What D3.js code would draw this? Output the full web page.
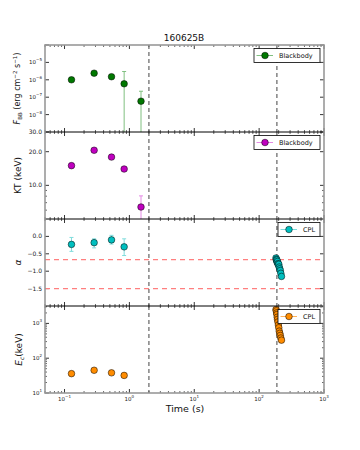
<!DOCTYPE html>
<html>
<head>
<meta charset="utf-8">
<script src="https://cdn.jsdelivr.net/npm/d3@7"></script>
<style>
  body { margin: 0; background: #fff; }
  svg { font-family: "DejaVu Sans", sans-serif; }
</style>
</head>
<body>
<svg id="chart" width="360" height="450"></svg>
<script>
// blackbody component (early pulse)
const timeBB = [0.128, 0.286, 0.53, 0.83, 1.51];
const fluxBB = [1.0e-6, 2.4e-6, 1.5e-6, 5.9e-7, 5.9e-8];
const fluxBBLo = [8.0e-7, 2.0e-6, 1.25e-6, 1e-10, 1e-10];
const fluxBBHi = [1.2e-6, 2.9e-6, 1.8e-6, 3.0e-6, 2.2e-7];
const ktBB = [15.0, 20.6, 17.9, 14.0, 6.4];
const ktBBLo = [14.6, 20.1, 17.4, 13.6, 3.0];
const ktBBHi = [15.4, 21.1, 18.4, 14.4, 8.05];

// cutoff power law component
const timeCPL = [0.128, 0.286, 0.53, 0.83, 182, 184, 186, 188, 190, 192, 195, 198, 201, 204, 208, 212, 216, 221];
const alphaCPL = [-0.23, -0.18, -0.10, -0.30, -0.62, -0.66, -0.70, -0.68, -0.75, -0.72, -0.78, -0.82, -0.80, -0.88, -0.93, -0.98, -1.06, -1.15];
const alphaLo = [-0.43, -0.33, -0.22, -0.55, -0.68, -0.72, -0.76, -0.74, -0.81, -0.78, -0.84, -0.88, -0.86, -0.94, -0.99, -1.04, -1.12, -1.21];
const alphaHi = [-0.03, -0.07, 0.03, -0.07, -0.56, -0.60, -0.64, -0.62, -0.69, -0.66, -0.72, -0.76, -0.74, -0.82, -0.87, -0.92, -1.00, -1.09];
const ecCPL = [36, 45, 38, 32, 2500, 2300, 2000, 1800, 1500, 1300, 1100, 900, 750, 600, 520, 450, 380, 330];

const vLines = [2, 188];
const alphaRefs = [-2 / 3, -1.5];

const xTicks = [0.1, 1, 10, 100, 1000];
const fluxTicks = [1e-8, 1e-7, 1e-6, 1e-5];
const ktTicks = [10, 20, 30];
const alphaTicks = [0, -0.5, -1, -1.5];
const ecTicks = [10, 100, 1000];

const svg = d3.select("#chart");
const L = 45, R = 324, top0 = 45, H = 87;
const tops = [0, 1, 2, 3].map(i => top0 + i * H);

const x = d3.scaleLog().domain([0.05, 1000]).range([L, R]);

const sup = s => s.replace("-", "\u2212");

function minorLog(domain) {
  const out = [];
  const lo = Math.floor(Math.log10(domain[0])), hi = Math.ceil(Math.log10(domain[1]));
  for (let e = lo; e <= hi; e++) {
    for (let m = 2; m <= 9; m++) {
      const v = m * Math.pow(10, e);
      if (v >= domain[0] && v <= domain[1]) out.push(v);
    }
  }
  return out;
}

function panel(i, y, opts) {
  const t = tops[i], b = t + H;
  const g = svg.append("g");
  const cid = "clip" + i;
  svg.append("clipPath").attr("id", cid)
    .append("rect").attr("x", L).attr("y", t).attr("width", R - L).attr("height", H);

  // x ticks top and bottom, inward
  const xMinor = minorLog(x.domain());
  [t, b].forEach((yy, k) => {
    const dir = k === 0 ? 1 : -1;
    g.selectAll(null).data(xTicks).enter().append("line")
      .attr("x1", d => x(d)).attr("x2", d => x(d))
      .attr("y1", yy).attr("y2", yy + dir * 4)
      .attr("stroke", "#000").attr("stroke-width", 0.8);
    g.selectAll(null).data(xMinor).enter().append("line")
      .attr("x1", d => x(d)).attr("x2", d => x(d))
      .attr("y1", yy).attr("y2", yy + dir * 2)
      .attr("stroke", "#000").attr("stroke-width", 0.6);
  });

  // y ticks left and right
  [L, R].forEach((xx, k) => {
    const dir = k === 0 ? 1 : -1;
    g.selectAll(null).data(opts.ticks).enter().append("line")
      .attr("x1", xx).attr("x2", xx + dir * 4)
      .attr("y1", d => y(d)).attr("y2", d => y(d))
      .attr("stroke", "#000").attr("stroke-width", 0.8);
    if (opts.minor) {
      g.selectAll(null).data(opts.minor).enter().append("line")
        .attr("x1", xx).attr("x2", xx + dir * 2)
        .attr("y1", d => y(d)).attr("y2", d => y(d))
        .attr("stroke", "#000").attr("stroke-width", 0.6);
    }
  });

  // y tick labels
  opts.ticks.forEach(d => {
    if (opts.skip && opts.skip(d)) return;
    const tx = g.append("text").attr("x", L - 3).attr("y", y(d) + 2)
      .attr("text-anchor", "end").attr("font-size", opts.log ? 5.5 : 6).attr("fill", "#222");
    if (opts.log) {
      tx.append("tspan").text("10");
      tx.append("tspan").attr("dy", -3).attr("font-size", 4).text(sup(String(Math.round(Math.log10(d)))));
    } else {
      tx.text(opts.fmt(d));
    }
  });

  // y label
  const lab = svg.append("text")
    .attr("transform", `translate(${opts.labX},${t + H / 2}) rotate(-90)`)
    .attr("text-anchor", "middle").attr("font-size", opts.labSize || 9).attr("fill", "#111");
  opts.label(lab);

  const plot = svg.append("g").attr("clip-path", `url(#${cid})`);

  if (opts.refs) {
    plot.selectAll(null).data(opts.refs).enter().append("line")
      .attr("x1", L).attr("x2", R).attr("y1", d => y(d)).attr("y2", d => y(d))
      .attr("stroke", "#ff7f7f").attr("stroke-width", 1.1).attr("stroke-dasharray", "5,4");
  }

  plot.selectAll(null).data(vLines).enter().append("line")
    .attr("x1", d => x(d)).attr("x2", d => x(d)).attr("y1", t).attr("y2", b)
    .attr("stroke", "#444").attr("stroke-width", 1).attr("stroke-dasharray", "4,3");

  const pts = opts.xs.map((xv, j) => ({ x: xv, y: opts.ys[j],
    lo: opts.lo ? opts.lo[j] : null, hi: opts.hi ? opts.hi[j] : null }));

  // error bars
  pts.filter(p => p.lo !== null).forEach(p => {
    const px = x(p.x);
    plot.append("line").attr("x1", px).attr("x2", px)
      .attr("y1", y(Math.max(p.lo, y.domain()[0] * 0 + p.lo))).attr("y2", y(p.hi))
      .attr("stroke", opts.ecolor).attr("stroke-width", 1);
    [p.lo, p.hi].forEach(v => {
      plot.append("line").attr("x1", px - 2).attr("x2", px + 2)
        .attr("y1", y(v)).attr("y2", y(v))
        .attr("stroke", opts.ecolor).attr("stroke-width", 1);
    });
  });

  plot.selectAll(null).data(pts).enter().append("circle")
    .attr("cx", d => x(d.x)).attr("cy", d => y(d.y)).attr("r", 3.3)
    .attr("fill", opts.color).attr("stroke", "#000").attr("stroke-width", 0.5);

  // legend
  const lw = opts.legendW, lx = R - 4 - lw, ly = t + 3.5, lh = 14;
  svg.append("rect").attr("x", lx).attr("y", ly).attr("width", lw).attr("height", lh)
    .attr("fill", "#fff").attr("stroke", "#000").attr("stroke-width", 0.8);
  svg.append("line").attr("x1", lx + 2.5).attr("x2", lx + 19).attr("y1", ly + lh / 2).attr("y2", ly + lh / 2)
    .attr("stroke", opts.ecolor).attr("stroke-width", 1);
  svg.append("circle").attr("cx", lx + 11).attr("cy", ly + lh / 2).attr("r", 3.3)
    .attr("fill", opts.color).attr("stroke", "#000").attr("stroke-width", 0.5);
  svg.append("text").attr("x", lx + 25).attr("y", ly + lh / 2 + 2.3)
    .attr("font-size", 6.5).attr("fill", "#111").text(opts.legend);

  return { t, b };
}

// panel 1: blackbody flux
const yF = d3.scaleLog().domain([1e-9, 1e-4]).range([tops[0] + H, tops[0]]);
panel(0, yF, {
  ticks: fluxTicks.concat([1e-4]), minor: null, log: true,
  skip: d => d === 1e-4,
  xs: timeBB, ys: fluxBB, lo: fluxBBLo, hi: fluxBBHi,
  color: "#007800", ecolor: "#80c080", legend: "Blackbody", legendW: 66,
  labX: 20, labSize: 8,
  label: s => {
    s.append("tspan").attr("font-style", "italic").text("F");
    s.append("tspan").attr("font-size", 5.5).attr("dy", 2).text("BB");
    s.append("tspan").attr("dy", -2).text(" (erg cm");
    s.append("tspan").attr("font-size", 5.5).attr("dy", -3).text("\u22122");
    s.append("tspan").attr("dy", 3).text(" s");
    s.append("tspan").attr("font-size", 5.5).attr("dy", -3).text("\u22121");
    s.append("tspan").attr("dy", 3).text(")");
  }
});

// panel 2: blackbody temperature
const yK = d3.scaleLog().domain([5, 30]).range([tops[1] + H, tops[1]]);
panel(1, yK, {
  ticks: ktTicks, minor: [6, 7, 8, 9], log: false, fmt: d3.format(".1f"),
  xs: timeBB, ys: ktBB, lo: ktBBLo, hi: ktBBHi,
  color: "#bf00bf", ecolor: "#e48ae4", legend: "Blackbody", legendW: 66,
  labX: 21,
  label: s => s.text("KT (keV)")
});

// panel 3: CPL index
const yA = d3.scaleLinear().domain([-2, 0.5]).range([tops[2] + H, tops[2]]);
panel(2, yA, {
  ticks: alphaTicks, minor: null, log: false, fmt: d => d3.format(".1f")(d).replace("-", "\u2212"),
  xs: timeCPL, ys: alphaCPL, lo: alphaLo, hi: alphaHi, refs: alphaRefs,
  color: "#00bfbf", ecolor: "#7fdcdc", legend: "CPL", legendW: 42,
  labX: 21,
  label: s => s.attr("font-style", "italic").text("\u03b1")
});

// panel 4: CPL cutoff energy
const yE = d3.scaleLog().domain([10, Math.pow(10, 3.5)]).range([tops[3] + H, tops[3]]);
panel(3, yE, {
  ticks: ecTicks, minor: minorLog([10, Math.pow(10, 3.5)]), log: true,
  xs: timeCPL, ys: ecCPL,
  color: "#ff8c00", ecolor: "#ffb35c", legend: "CPL", legendW: 42,
  labX: 22,
  label: s => {
    s.append("tspan").attr("font-style", "italic").text("E");
    s.append("tspan").attr("font-size", 6).attr("dy", 2).attr("font-style", "italic").text("c");
    s.append("tspan").attr("dy", -2).text("(keV)");
  }
});

// panel separators and outer frame
svg.selectAll(null).data([tops[1], tops[2], tops[3]]).enter().append("line")
  .attr("x1", L).attr("x2", R).attr("y1", d => d).attr("y2", d => d)
  .attr("stroke", "#000").attr("stroke-width", 1);
svg.append("rect").attr("x", L).attr("y", top0).attr("width", R - L).attr("height", 4 * H)
  .attr("fill", "none").attr("stroke", "#999").attr("stroke-width", 1.6);

// bottom x tick labels
xTicks.forEach(d => {
  const tx = svg.append("text").attr("x", x(d)).attr("y", top0 + 4 * H + 8)
    .attr("text-anchor", "middle").attr("font-size", 5.5).attr("fill", "#222");
  tx.append("tspan").text("10");
  tx.append("tspan").attr("dy", -3).attr("font-size", 4).text(sup(String(Math.round(Math.log10(d)))));
});

svg.append("text").attr("x", 185).attr("y", 412).attr("text-anchor", "middle")
  .attr("font-size", 9.5).attr("fill", "#111").text("Time (s)");

svg.append("text").attr("x", 184).attr("y", 41).attr("text-anchor", "middle")
  .attr("font-size", 9).attr("fill", "#111").text("160625B");
</script>
</body>
</html>
